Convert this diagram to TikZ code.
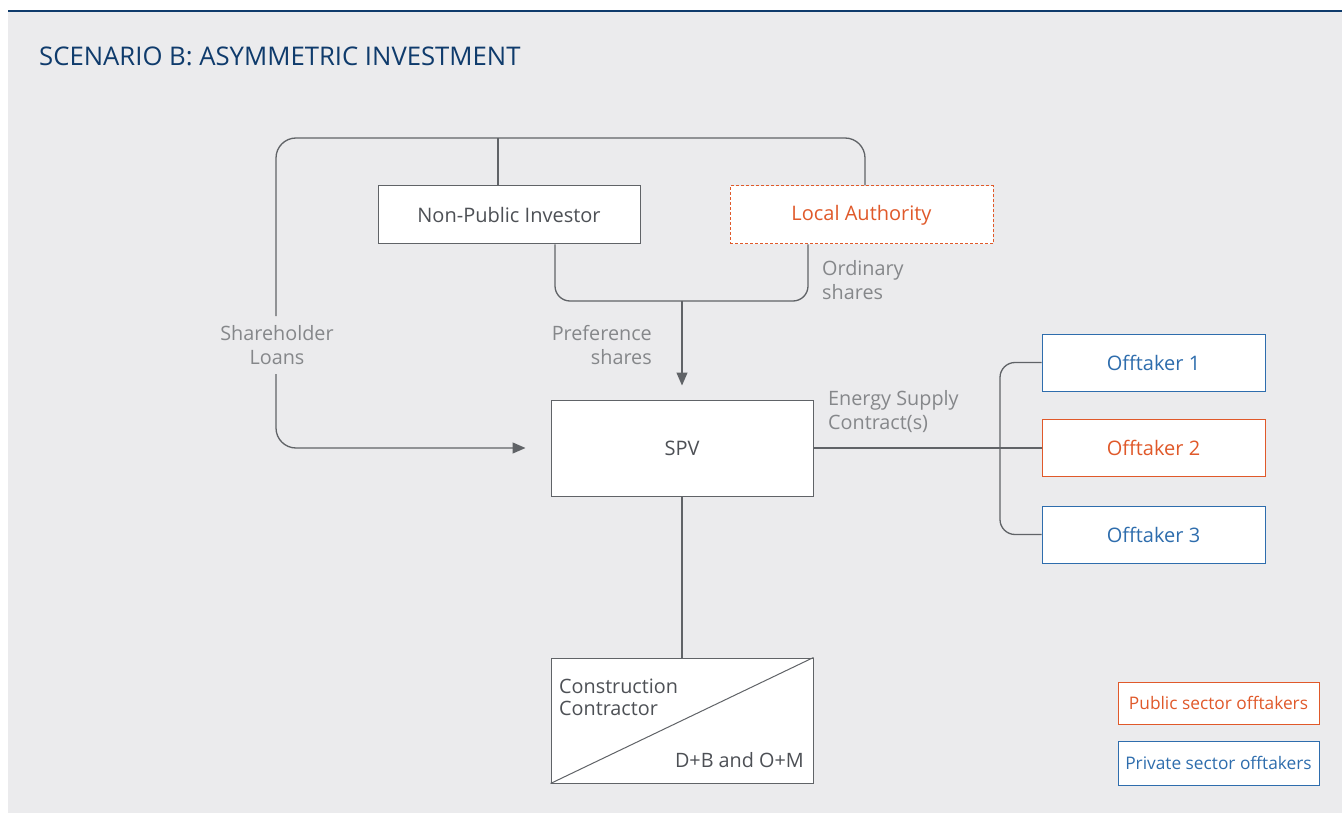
\documentclass[tikz,border=0pt]{standalone}
\usepackage{fontspec}
\setmainfont{Open Sans}
\usetikzlibrary{arrows.meta,calc}
\definecolor{bg}{HTML}{EBEBED}
\definecolor{navy}{HTML}{0F3B6C}
\definecolor{lgray}{HTML}{606367}
\definecolor{tgray}{HTML}{4D5055}
\definecolor{lbl}{HTML}{85878A}
\definecolor{orng}{HTML}{E0592A}
\definecolor{blu}{HTML}{2E6DAD}
\tikzset{
  box/.style={draw=lgray, fill=white, line width=1pt, inner sep=0pt, text=tgray, font=\fontsize{20}{22}\selectfont},
  pubbox/.style={box, draw=orng, text=orng},
  privbox/.style={box, draw=blu, text=blu},
  conn/.style={draw=lgray, line width=1.3pt},
  tip/.style={-{Triangle[length=13pt,width=11pt]}},
  lab/.style={text=lbl, inner sep=0pt, font=\fontsize{19.8}{24}\selectfont},
  legbox/.style={fill=white, line width=1pt, inner sep=0pt, minimum width=201pt, font=\fontsize{17.3}{18}\selectfont}
}
\begin{document}
\begin{tikzpicture}[x=1pt,y=-1pt]
\useasboundingbox (0,0) rectangle (1342,813);
\fill[white] (0,0) rectangle (1342,813);
\fill[bg] (8,11) rectangle (1342,813);
\draw[navy, line width=2pt] (8,11) -- (1342,11);
\node[anchor=west, text=navy, inner sep=0pt, font=\fontsize{25.7}{28}\selectfont] (title) at (39,56) {SCENARIO B: ASYMMETRIC INVESTMENT};

% nodes
\node[box, minimum width=262pt, minimum height=58pt] (npi) at (509,215) {Non-Public Investor};
\node[pubbox, dash pattern=on 3pt off 2pt, minimum width=263pt, minimum height=58pt] (la) at (861.5,215) {Local Authority};
\node[box, minimum width=262pt, minimum height=96pt] (spv) at (682,448) {SPV};
\node[privbox, minimum width=223pt, minimum height=57pt] (o1) at (1153.5,362.5) {Offtaker 1};
\node[pubbox, minimum width=223pt, minimum height=57pt] (o2) at (1153.5,448) {Offtaker 2};
\node[privbox, minimum width=223pt, minimum height=57pt] (o3) at (1153.5,534.5) {Offtaker 3};
\node[box, minimum width=262pt, minimum height=125pt] (cc) at (682,720.5) {};
\node[legbox, draw=orng, text=orng, minimum height=42pt] (pub) at (1218.5,703) {Public sector offtakers};
\node[legbox, draw=blu, text=blu, minimum height=44pt] (priv) at (1218.5,763) {Private sector offtakers};

% coordinates
\coordinate (tlc) at (276,138);
\coordinate (trc) at (865,138);
\coordinate (a1) at (498,138);
\coordinate (slA) at (276,316);
\coordinate (slB) at (276,374);
\coordinate (pl) at (555,301);
\coordinate (pr) at (808,301);
\coordinate (pm) at (682,301);
\coordinate (obx) at (1000,448);

% connectors
\draw[conn, rounded corners=20pt] (slA) -- (tlc) -- (trc) -- (la.north -| trc);
\draw[conn] (a1) -- (npi.north -| a1);
\draw[conn, tip, rounded corners=20pt] (slB) -- (slB |- spv.west) -- ($(spv.west)+(-25,0)$);
\draw[conn, rounded corners=15pt] (npi.south -| pl) -- (pl) -- (pr) -- (la.south -| pr);
\draw[conn, tip] (pm) -- ($(spv.north)+(0,-14)$);
\draw[conn] (spv.east) -- (o2.west);
\draw[conn, rounded corners=15pt] (o1.west) -- (o1.west -| obx) -- (o3.west -| obx) -- (o3.west);
\draw[conn] (spv.south) -- (cc.north);
\draw[lgray, line width=1pt] (cc.south west) -- (cc.north east);

% labels
\node[lab, align=center] (shl) at (277,345) {Shareholder\\Loans};
\node[lab, align=right, anchor=east] (prf) at (652,345) {Preference\\shares};
\node[lab, align=left, anchor=west] (ord) at (822,280) {Ordinary\\shares};
\node[lab, align=left, anchor=west] (esc) at (828,412) {Energy Supply\\Contract(s)};
\node[align=left, anchor=west, inner sep=0pt, text=tgray, font=\fontsize{19.8}{22}\selectfont] (cct) at (559,697) {Construction\\Contractor};
\node[anchor=east, inner sep=0pt, text=tgray, font=\fontsize{19.8}{22}\selectfont] (dbom) at (804,760) {D+B and O+M};
\end{tikzpicture}
\end{document}
